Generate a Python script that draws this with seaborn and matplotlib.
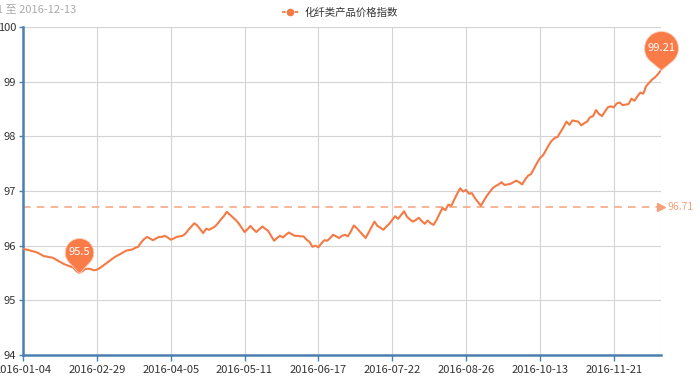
import numpy as np
import pandas as pd
import matplotlib
matplotlib.use('Agg')
import matplotlib.pyplot as plt
import seaborn as sns
from matplotlib.path import Path
from matplotlib.lines import Line2D

# ---------------- data ----------------
series_name = '化纤类产品价格指数'
date_range = '2016-01-01 至 2016-12-13'
tick_labels = ['2016-01-04', '2016-02-29', '2016-04-05', '2016-05-11', '2016-06-17',
               '2016-07-22', '2016-08-26', '2016-10-13', '2016-11-21']
label_interval = 25
y_ticks = [94, 95, 96, 97, 98, 99, 100]
values = [
    95.94, 95.93, 95.92, 95.90, 95.89, 95.87, 95.84, 95.81, 95.80, 95.79,
    95.78, 95.75, 95.72, 95.69, 95.66, 95.64, 95.62, 95.60, 95.54, 95.50,
    95.53, 95.57, 95.58, 95.57, 95.55, 95.56, 95.59, 95.63, 95.67, 95.71,
    95.75, 95.79, 95.82, 95.85, 95.88, 95.91, 95.92, 95.93, 95.96, 95.98,
    96.06, 96.12, 96.16, 96.13, 96.10, 96.13, 96.16, 96.16, 96.18, 96.15,
    96.11, 96.13, 96.16, 96.17, 96.18, 96.22, 96.29, 96.35, 96.41, 96.37,
    96.30, 96.23, 96.31, 96.29, 96.32, 96.35, 96.41, 96.48, 96.54, 96.62,
    96.57, 96.52, 96.47, 96.41, 96.33, 96.25, 96.30, 96.36, 96.30, 96.25,
    96.30, 96.35, 96.31, 96.27, 96.18, 96.09, 96.14, 96.18, 96.15, 96.20,
    96.24, 96.21, 96.18, 96.18, 96.17, 96.17, 96.11, 96.07, 95.98, 96.00,
    95.97, 96.04, 96.10, 96.09, 96.14, 96.20, 96.17, 96.14, 96.18, 96.20,
    96.17, 96.26, 96.37, 96.32, 96.26, 96.20, 96.14, 96.24, 96.34, 96.44,
    96.36, 96.33, 96.29, 96.35, 96.40, 96.47, 96.54, 96.49, 96.56, 96.63,
    96.53, 96.48, 96.44, 96.47, 96.51, 96.45, 96.40, 96.46, 96.41, 96.38,
    96.47, 96.58, 96.69, 96.65, 96.75, 96.73, 96.84, 96.95, 97.05, 96.99,
    97.02, 96.95, 96.96, 96.87, 96.80, 96.73, 96.82, 96.91, 96.98, 97.05,
    97.09, 97.12, 97.16, 97.11, 97.12, 97.13, 97.16, 97.19, 97.16, 97.12,
    97.21, 97.28, 97.31, 97.41, 97.51, 97.60, 97.65, 97.74, 97.84, 97.92,
    97.97, 97.99, 98.08, 98.17, 98.27, 98.21, 98.29, 98.28, 98.27, 98.20,
    98.24, 98.27, 98.35, 98.37, 98.48, 98.41, 98.37, 98.45, 98.53, 98.55,
    98.53, 98.60, 98.62, 98.57, 98.58, 98.59, 98.69, 98.65, 98.73, 98.80,
    98.78, 98.92, 98.98, 99.04, 99.08, 99.14, 99.21,
]

# ---------------- style ----------------
LINE = '#f47a45'
PIN = '#f97b48'
MEAN_C = '#f5a27c'
AXIS_C = '#4a80b0'
GRID_C = '#d4d4d4'
TEXT_C = '#333333'

sns.set_theme(style='white')
plt.rcParams['font.family'] = ['Noto Sans CJK SC', 'DejaVu Sans']

n = len(values)
df = pd.DataFrame({'idx': np.arange(n), 'value': values})

fig = plt.figure(figsize=(7, 3.79), dpi=100)
ax = fig.add_axes([23 / 700, 24 / 379, 638 / 700, 328 / 379])

# grid
tick_pos = list(range(0, n, label_interval))[:len(tick_labels)]
for yv in y_ticks:
    ax.axhline(yv, color=GRID_C, lw=0.8, zorder=0)
for xv in tick_pos + [n - 1]:
    ax.axvline(xv, color=GRID_C, lw=0.8, zorder=0)

sns.lineplot(data=df, x='idx', y='value', ax=ax, color=LINE, linewidth=1.5, zorder=3)

# mean line
mean_v = float(np.mean(values))
ax.plot([0, n - 1.6], [mean_v, mean_v], color=MEAN_C, lw=1.1, ls=(0, (5, 4)), zorder=2)
ax.plot([n - 1], [mean_v], marker='>', ms=6, color=MEAN_C, mec=MEAN_C, clip_on=False, zorder=2)
ax.annotate(f'{mean_v:.2f}', xy=(n - 1, mean_v), xytext=(5, 0), textcoords='offset points',
            ha='left', va='center', fontsize=7.5, color=MEAN_C, annotation_clip=False)


# pin markers
def pin_path(d=1.45):
    theta = np.degrees(np.arccos(1.0 / d))
    arc = Path.arc(-90 + theta, 270 - theta)
    verts = np.vstack([[0, 0], arc.vertices + [0, d], [0, 0]])
    codes = [Path.MOVETO, Path.LINETO] + list(arc.codes[1:]) + [Path.CLOSEPOLY]
    return Path(verts, codes)


def draw_pin(i, v, text, size_px, d=1.45):
    ms = size_px * 2 * 0.72
    ax.plot([i], [v], marker=pin_path(d), ms=ms, color=PIN, mec='#fbd2bf', mew=0.6,
            clip_on=False, zorder=5, ls='none')
    off = d / (d + 1) * size_px * 0.72
    ax.annotate(text, xy=(i, v), xytext=(0, off), textcoords='offset points',
                ha='center', va='center', fontsize=8, color='white', zorder=6,
                annotation_clip=False)


imin = int(np.argmin(values))
imax = int(np.argmax(values))
draw_pin(imin, values[imin], f'{values[imin]:g}', 35)
draw_pin(imax, values[imax], f'{values[imax]:g}', 39, d=1.3)

# axes
ax.set_xlim(0, n - 1)
ax.set_ylim(94, 100)
ax.set_yticks(y_ticks)
ax.set_yticklabels([str(t) for t in y_ticks])
ax.set_xticks(tick_pos)
ax.set_xticklabels(tick_labels)
ax.set_xlabel('')
ax.set_ylabel('')
ax.tick_params(axis='both', labelsize=8, labelcolor=TEXT_C, colors=AXIS_C,
               length=4, width=1, pad=3, bottom=True, left=True)
ax.tick_params(axis='y', labelcolor=TEXT_C, length=3, pad=2)
for s in ['top', 'right']:
    ax.spines[s].set_visible(False)
for s in ['left', 'bottom']:
    ax.spines[s].set_color(AXIS_C)
    ax.spines[s].set_linewidth(1.8)
for lbl in ax.get_xticklabels() + ax.get_yticklabels():
    lbl.set_color(TEXT_C)

# legend
h = Line2D([], [], color=LINE, ls=(0, (2, 1.5)), lw=1.3, marker='o', ms=4.5)
fig.legend(handles=[h], labels=[series_name], loc='center',
           bbox_to_anchor=(340 / 700, 1 - 13 / 379), frameon=False, fontsize=7.5,
           handlelength=1.6, handletextpad=0.6, labelcolor=TEXT_C)

# date range (clipped at the left edge, as in the original)
fig.text(76 / 700, 1 - 9 / 379, date_range, ha='right', va='center',
         color='#aaaaaa', fontsize=8)

fig.savefig('out.png', dpi=100)
